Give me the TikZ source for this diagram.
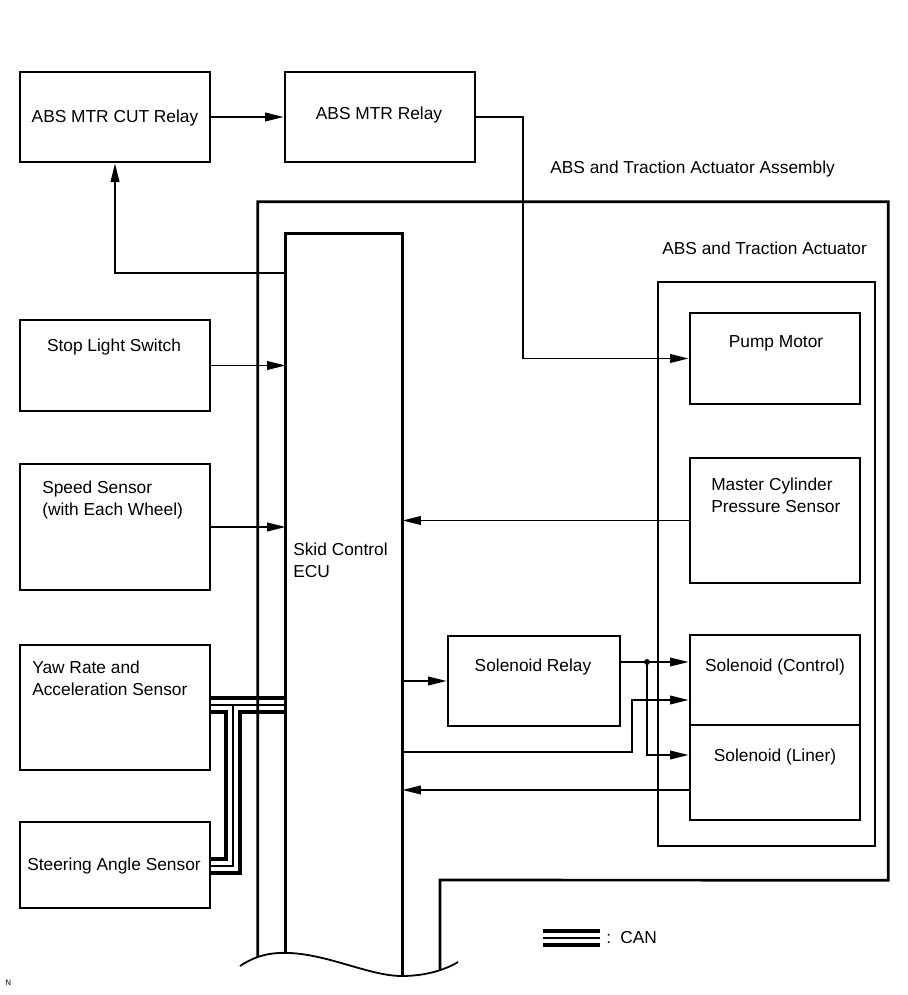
\documentclass[tikz,border=0pt]{standalone}
\usepackage{fontspec}
\setmainfont{Liberation Sans}
\usetikzlibrary{arrows.meta,fit,backgrounds}
\begin{document}
\begin{tikzpicture}[x=.75pt,y=-.75pt,
  >={Triangle[length=14pt,width=6.5pt]},
  box/.style={draw,line width=2pt,inner sep=0pt},
  txt/.style={font=\fontsize{13}{16.5}\selectfont,inner sep=0pt,align=left},
  wire/.style={line width=1.35pt}]
\useasboundingbox (0,0) rectangle (907,995);
% boxes on the left
\node[box,fit={(20,72) (210,162)}] (cut) {};
\node[box,fit={(285,72) (475,162)}] (mtr) {};
\node[box,fit={(20,320) (210,411)}] (stop) {};
\node[box,fit={(20,464) (210,590)}] (speed) {};
\node[box,fit={(20,645) (210,770)}] (yaw) {};
\node[box,fit={(20,822) (210,908)}] (steer) {};
% actuator side
\node[box,fit={(658,282) (875,846)}] (act) {};
\node[box,fit={(690,313) (860,404)}] (pump) {};
\node[box,fit={(690,458) (860,583)}] (mcyl) {};
\node[box,fit={(690,635) (860,725)}] (ctrl) {};
\node[box,fit={(690,725) (860,820)}] (liner) {};
\node[box,fit={(448,636) (620,726)}] (relay) {};
\node[inner sep=0pt,fit={(258,202) (888,880)}] (asm) {};
\node[inner sep=0pt,fit={(286,234) (402,960)}] (ecu) {};
% open bottom, cut by the wave
\begin{scope}
\clip (0,0) -- (907,0) -- (907,995) -- (458,995) -- (458,962)
  .. controls (445,970) and (425,976) .. (402,976)
  .. controls (370,976) and (330,955) .. (290,953)
  .. controls (270,952) and (255,956) .. (240,966) -- (240,995) -- (0,995) -- cycle;
\draw[line width=2pt] (asm.west |- 0,990) -- (asm.north west) -- (asm.north east)
  -- (asm.south east) -- (440,880) -- (440,990);
\draw[line width=2pt] (ecu.west |- 0,990) -- (ecu.north west) -- (ecu.north east) -- (ecu.east |- 0,990);
\end{scope}
\draw[wire] (458,962) .. controls (445,970) and (425,976) .. (402,976)
  .. controls (370,976) and (330,955) .. (290,953)
  .. controls (270,952) and (255,956) .. (240,966);
% CAN
\begin{scope}[on background layer]
\foreach \w/\c in {14pt/black,8pt/white,1.4pt/black}
\draw[line width=\w,\c] (yaw.east |- 0,705) -- (ecu.west |- 0,705) (233,705) |- (steer.east |- 0,866);
\end{scope}
\foreach \w/\c in {14pt/black,8pt/white,1.4pt/black}
\draw[line width=\w,\c] (543,938) -- (600,938);
\node[txt,anchor=west] (canT) at (606,938) {:\, CAN};
% texts
\node[txt] (cutT) at (115,118) {ABS MTR CUT Relay};
\node[txt] (mtrT) at (379,115) {ABS MTR Relay};
\node[txt] (stopT) at (114,347) {Stop Light Switch};
\node[txt,anchor=west] (speedT) at (42,500) {Speed Sensor\\(with Each Wheel)};
\node[txt,anchor=west] (yawT) at (32,678) {Yaw Rate and\\Acceleration Sensor};
\node[txt] (steerT) at (114,866) {Steering Angle Sensor};
\node[txt,anchor=west] (ecuT) at (293,560) {Skid Control\\ECU};
\node[txt] (pumpT) at (776,343) {Pump Motor};
\node[txt,anchor=west] (mcylT) at (711,495) {Master Cylinder\\Pressure Sensor};
\node[txt] (relayT) at (533,667) {Solenoid Relay};
\node[txt] (ctrlT) at (775,667) {Solenoid (Control)};
\node[txt] (linerT) at (775,757) {Solenoid (Liner)};
\node[txt,anchor=west] (asmT) at (550,169) {ABS and Traction Actuator Assembly};
\node[txt,anchor=west] (actT) at (662,248) {ABS and Traction Actuator};
\node[anchor=west,inner sep=0pt,font=\fontsize{6}{7}\selectfont] (nT) at (5,983) {N};
% connectors
\draw[wire,->] (cut.east) -- (mtr.west);
\draw[wire,->] (mtr.east) -- ++(47,0) |- (pump.west);
\draw[wire,->] (ecu.west |- 0,273) -| (cut.south);
\draw[wire,->] (stop.east) -- (ecu.west |- stop.east);
\draw[wire,->] (speed.east) -- (ecu.west |- speed.east);
\draw[wire,->] (mcyl.west) -- (ecu.east |- mcyl.west);
\draw[wire,->] (ecu.east |- relay.west) -- (relay.west);
\coordinate (split) at (647,662);
\fill (split) circle[radius=2.2pt];
\draw[wire,->] (relay.east |- split) -- (split) -- (ctrl.west |- split);
\draw[wire,->] (split) |- (liner.west |- 0,755);
\draw[wire,->] (ecu.east |- 0,752) -| (632,700) -- (ctrl.west |- 0,700);
\draw[wire,->] (liner.west |- 0,790) -- (ecu.east |- 0,790);
\end{tikzpicture}
\end{document}
